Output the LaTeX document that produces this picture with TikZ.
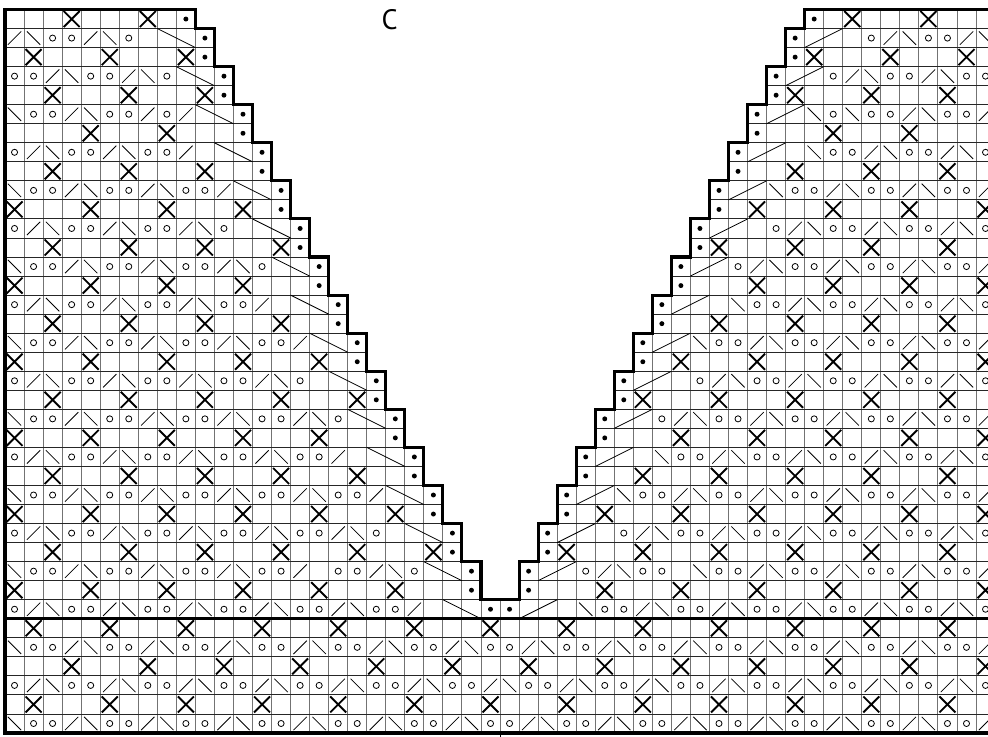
\documentclass[tikz,border=0pt]{standalone}
\usepackage{fontspec}
\newfontfamily\chartfont{PT Sans}

\tikzset{
  gridv/.style={black!55,line width=0.7pt},
  gridh/.style={black!85,line width=0.7pt},
  sym/.style={line width=0.6pt},
  crossx/.style={line width=1.4pt},
  outline/.style={line width=2.3pt},
}

% cell marks, #1 = column, #2 = row
\newcommand\syo[2]{\draw[sym] ({#1+.5},{#2+.5}) circle (.16);}
\newcommand\syr[2]{\draw[sym] ({#1+.15},{#2+.15}) -- ({#1+.85},{#2+.85});}
\newcommand\syl[2]{\draw[sym] ({#1+.15},{#2+.85}) -- ({#1+.85},{#2+.15});}
\newcommand\syx[2]{\draw[crossx] ({#1+.08},{#2+.08}) -- ({#1+.92},{#2+.92})
  ({#1+.08},{#2+.92}) -- ({#1+.92},{#2+.08});}
\newcommand\sydot[2]{\fill ({#1+.5},{#2+.5}) circle (.13);}

% row, first col, last col, phase
\newcommand\lacerow[4]{%
  \foreach \c in {#2,...,#3}{%
    \pgfmathtruncatemacro\lacemod{mod(\c+#4,4)}%
    \ifcase\lacemod \syl{\c}{#1}\or \syo{\c}{#1}\or \syo{\c}{#1}\or \syr{\c}{#1}\fi}}
% row, first col, second col, last col
\newcommand\crossrow[4]{\foreach \c in {#2,#3,...,#4}{\syx{\c}{#1}}}

\newcommand\neckpath{(0,0) -- (0,38) -- (10,38) -- (10,37)
  \foreach \k in {0,...,14}{ -- ({11+\k},{37-2*\k}) -- ({11+\k},{35-2*\k}) }
  -- (27,7)
  \foreach \k in {14,13,...,0}{ -- ({41-\k},{37-2*\k}) -- ({42-\k},{37-2*\k}) }
  -- (42,38) -- (52,38) -- (52,0) -- cycle}

% left half of the neck, mirrored for the right half
\newcommand\neckside{%
  \lacerow{6}{0}{21}{2}
  \lacerow{8}{0}{15}{0} \lacerow{8}{17}{21}{0}
  \lacerow{10}{0}{19}{2}
  \lacerow{12}{0}{19}{0}
  \lacerow{14}{0}{17}{2}
  \lacerow{16}{0}{17}{0}
  \lacerow{18}{0}{15}{2}
  \lacerow{20}{0}{15}{0}
  \lacerow{22}{0}{13}{2}
  \lacerow{24}{0}{13}{0}
  \lacerow{26}{0}{11}{2}
  \lacerow{28}{0}{11}{0}
  \lacerow{30}{0}{9}{2}
  \lacerow{32}{0}{7}{0} \lacerow{32}{8}{9}{2}
  \lacerow{34}{0}{8}{1}
  \lacerow{36}{0}{6}{3}
  \crossrow{7}{0}{4}{20}
  \crossrow{9}{2}{6}{22}
  \crossrow{11}{0}{4}{20}
  \crossrow{13}{2}{6}{18}
  \crossrow{15}{0}{4}{16}
  \crossrow{17}{2}{6}{18}
  \crossrow{19}{0}{4}{16}
  \crossrow{21}{2}{6}{14}
  \crossrow{23}{0}{4}{12}
  \crossrow{25}{2}{6}{14}
  \crossrow{27}{0}{4}{12}
  \crossrow{29}{2}{6}{10}
  \crossrow{31}{4}{8}{8}
  \crossrow{33}{2}{6}{10}
  \crossrow{35}{1}{5}{9}
  \crossrow{37}{3}{7}{7}
  \foreach \r in {6,...,37}{%
    \pgfmathtruncatemacro\dotcol{10+floor((36-\r)/2)}%
    \sydot{\dotcol}{\r}}
  \foreach \j in {0,...,15}
    \draw[sym] ({8+\j},{37-2*\j}) -- ({10+\j},{36-2*\j});
}

\begin{document}
\begin{tikzpicture}[x=0.5cm,y=0.5cm]
  \path[use as bounding box] (-0.263,-0.158) rectangle (51.63,38.5);
  \clip (-0.263,-0.158) rectangle (51.63,38.5);

  % grid
  \begin{scope}
    \clip \neckpath;
    \foreach \x in {1,...,51} \draw[gridv] (\x,0) -- (\x,38);
    \foreach \y in {1,...,37} \draw[gridh] (0,\y) -- (52,\y);
  \end{scope}

  % rib rows at the bottom
  \lacerow{0}{0}{51}{0}
  \crossrow{1}{1}{5}{49}
  \lacerow{2}{0}{51}{2}
  \crossrow{3}{3}{7}{51}
  \lacerow{4}{0}{51}{0}
  \crossrow{5}{1}{5}{49}

  \neckside
  \begin{scope}[shift={(52,0)},xscale=-1]
    \neckside
  \end{scope}

  \draw[outline] \neckpath;
  \draw[outline] (0,6) -- (52,6);
  \draw[sym] (26,0) -- (26,-0.3);

  \node[font=\chartfont\fontsize{21}{21}\selectfont] (chartname) at (20.2,37.45) {C};
\end{tikzpicture}
\end{document}
